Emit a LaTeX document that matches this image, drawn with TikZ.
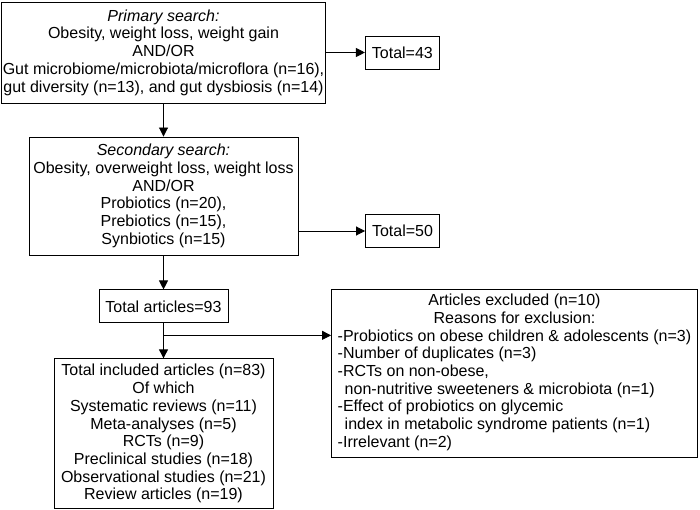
\documentclass[tikz,border=0pt]{standalone}
\usepackage{fontspec}
\setmainfont{Liberation Sans}
\usetikzlibrary{positioning,arrows.meta,calc}
\tikzset{
box/.style={
  draw,
  line width=0.9pt,
  inner sep=0pt,
  align=center,
  font=\fontsize{16}{17.7}\selectfont
},
arr/.style={-{Triangle[width=9pt,length=9pt]},line width=0.9pt}
}

\begin{document}
\begin{tikzpicture}[x=1pt,y=-1pt]
  \useasboundingbox (0,0) rectangle (700,510);

  \node[box,minimum width=324pt,minimum height=101pt] (primary) at (163.5,52.5)
    {\textit{Primary search:}\\
     Obesity, weight loss, weight gain\\
     AND/OR\\
     Gut microbiome/microbiota/microflora (n=16),\\
     gut diversity (n=13), and gut dysbiosis (n=14)};
  \node[box,minimum width=74pt,minimum height=33pt,right=39pt of primary] (total43) {Total=43};

  \node[box,minimum width=269pt,minimum height=118pt] (secondary) at (163.5,196)
    {\textit{Secondary search:}\\
     Obesity, overweight loss, weight loss\\
     AND/OR\\
     Probiotics (n=20),\\
     Prebiotics (n=15),\\
     Synbiotics (n=15)};
  \node[box,minimum width=74pt,minimum height=33pt] (total50) at (402.5,231) {Total=50};

  \node[box,minimum width=129pt,minimum height=33pt,below=34pt of secondary] (total93) {Total articles=93};
  \node[box,minimum width=219pt,minimum height=150pt,below=35pt of total93] (included)
    {Total included articles (n=83)\\
     Of which\\
     Systematic reviews (n=11)\\
     Meta-analyses (n=5)\\
     RCTs (n=9)\\
     Preclinical studies (n=18)\\
     Observational studies (n=21)\\
     Review articles (n=19)};

  \node[box,minimum width=366pt,minimum height=168pt] (excluded) at (514.5,373)
    {\begin{tabular}{@{}l@{}}
     \multicolumn{1}{@{}c@{}}{Articles excluded (n=10)}\\
     \multicolumn{1}{@{}c@{}}{Reasons for exclusion:}\\
     -Probiotics on obese children \& adolescents (n=3)\\
     -Number of duplicates (n=3)\\
     -RCTs on non-obese,\\
     \hspace*{7pt}non-nutritive sweeteners \& microbiota (n=1)\\
     -Effect of probiotics on glycemic\\
     \hspace*{7pt}index in metabolic syndrome patients (n=1)\\
     -Irrelevant (n=2)
     \end{tabular}};

  \draw[arr] (primary) -- (total43);
  \draw[arr] (primary) -- (secondary);
  \draw[arr] (secondary.east |- total50) -- (total50);
  \draw[arr] (secondary) -- (total93);
  \draw[arr] (total93) -- (included);
  \coordinate (split) at ([yshift=-12pt]total93.south);
  \draw[arr] (split) -- (split -| excluded.west);
\end{tikzpicture}
\end{document}
